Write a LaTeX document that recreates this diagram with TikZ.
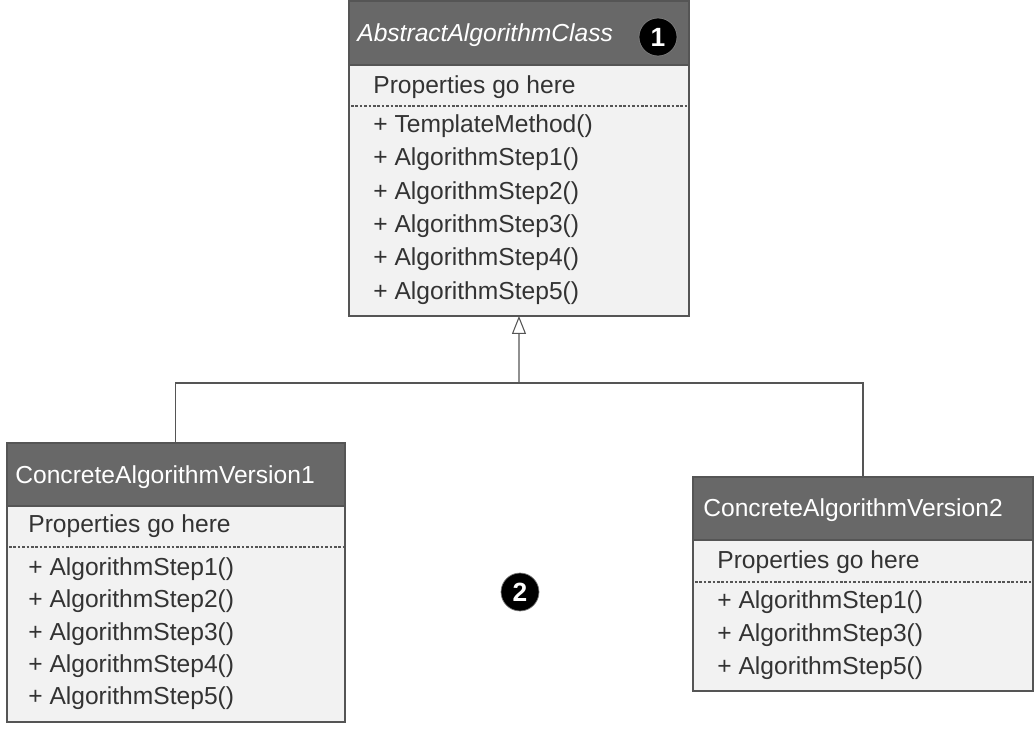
\documentclass[tikz,border=0pt]{standalone}
\usepackage{fontspec}
\setmainfont{Liberation Sans}
\usetikzlibrary{arrows.meta}
\definecolor{headgray}{RGB}{104,104,104}
\definecolor{bodygray}{RGB}{242,242,242}
\definecolor{linegray}{RGB}{85,85,85}
\definecolor{textgray}{RGB}{51,51,51}

\tikzset{
  uml/.style={draw=linegray, line width=1.1pt, anchor=north west, inner sep=0pt, outer sep=0pt},
  classbox/.style={uml, fill=bodygray},
  classhead/.style={uml, fill=headgray},
  headtext/.style={anchor=base west, inner sep=0pt, text=white, font=\fontsize{14}{17}\selectfont},
  member/.style={anchor=base west, inner sep=0pt, text=textgray, font=\fontsize{14}{17}\selectfont},
  divider/.style={linegray, line width=0.6pt, dash pattern=on 1.5pt off 1pt},
  callout/.style={circle, fill=black, draw=gray, line width=0.4pt, text=white, font=\bfseries\fontsize{15}{15}\selectfont, minimum size=0.76cm, inner sep=0pt},
  inherit/.style={linegray, line width=0.6pt}
}

\begin{document}
\begin{tikzpicture}[x=0.02cm, y=-0.02cm]
    \useasboundingbox (0,0) rectangle (1035,729);

    \node[classbox, minimum width=6.8cm, minimum height=6.3cm] (abstract) at (349,1) {};
    \node[classhead, minimum width=6.8cm, minimum height=1.28cm] (abstracthead) at (349,1) {};
    \node[headtext] (abstractname) at (357,42) {\itshape AbstractAlgorithmClass};
    \node[callout] (mark1) at (658,37) {1};
    \node[member] (abstractprops) at (373,94) {Properties go here};
    \draw[divider] (351,106) -- (687,106);
    \node[member] (abstracttemplate) at (373,133) {+ TemplateMethod()};
    \node[member] (abstractstep1) at (373,166) {+ AlgorithmStep1()};
    \node[member] (abstractstep2) at (373,200) {+ AlgorithmStep2()};
    \node[member] (abstractstep3) at (373,233) {+ AlgorithmStep3()};
    \node[member] (abstractstep4) at (373,266) {+ AlgorithmStep4()};
    \node[member] (abstractstep5) at (373,300) {+ AlgorithmStep5()};

    \node[classbox, minimum width=6.76cm, minimum height=5.58cm] (concrete1) at (7,443) {};
    \node[classhead, minimum width=6.76cm, minimum height=1.26cm] (concrete1head) at (7,443) {};
    \node[headtext] (concrete1name) at (15,483) {ConcreteAlgorithmVersion1};
    \node[member] (concrete1props) at (28,533) {Properties go here};
    \draw[divider] (9,547) -- (343,547);
    \node[member] (concrete1step1) at (28,575) {+ AlgorithmStep1()};
    \node[member] (concrete1step2) at (28,607) {+ AlgorithmStep2()};
    \node[member] (concrete1step3) at (28,640) {+ AlgorithmStep3()};
    \node[member] (concrete1step4) at (28,672) {+ AlgorithmStep4()};
    \node[member] (concrete1step5) at (28,704) {+ AlgorithmStep5()};

    \node[classbox, minimum width=6.8cm, minimum height=4.28cm] (concrete2) at (693,477) {};
    \node[classhead, minimum width=6.8cm, minimum height=1.26cm] (concrete2head) at (693,477) {};
    \node[headtext] (concrete2name) at (703,517) {ConcreteAlgorithmVersion2};
    \node[member] (concrete2props) at (717,568) {Properties go here};
    \draw[divider] (695,582) -- (1031,582);
    \node[member] (concrete2step1) at (717,608) {+ AlgorithmStep1()};
    \node[member] (concrete2step3) at (717,641) {+ AlgorithmStep3()};
    \node[member] (concrete2step5) at (717,674) {+ AlgorithmStep5()};

    \node[callout] (mark2) at (520,592) {2};

    \coordinate (joint) at (519,383);
    \draw[inherit] (concrete1head.north) |- (joint);
    \draw[inherit] (concrete2head.north) |- (joint);
    \draw[inherit, -{Triangle[open, length=0.36cm, width=0.28cm]}] (joint) -- (abstract.south);

\end{tikzpicture}
\end{document}
